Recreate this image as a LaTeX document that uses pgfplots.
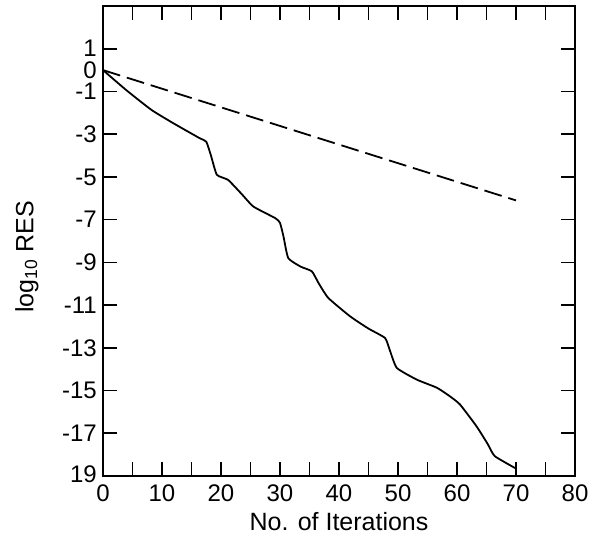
\documentclass[border=0pt]{standalone}
\usepackage{fontspec}
\setmainfont{Liberation Sans}
\usepackage{pgfplots}
\pgfplotsset{compat=1.18}
\begin{document}
\begin{tikzpicture}
\begin{axis}[
  name=ax,
  scale only axis,
  width=472pt, height=470pt,
  xmin=0, xmax=80, ymin=-19, ymax=3,
  axis line style={line width=1.8pt},
  tick style={line width=1.6pt, black},
  major tick length=14pt,
  tick align=inside,
  xtick={0,5,...,80},
  xticklabels={0,,10,,20,,30,,40,,50,,60,,70,,80},
  ytick={1,-1,-3,-5,-7,-9,-11,-13,-15,-17,-19},
  yticklabels={1,-1,-3,-5,-7,-9,-11,-13,-15,-17,\raisebox{3pt}{19}},
  extra y ticks={0},
  extra y tick labels={0},
  extra y tick style={major tick length=0pt, tick style={draw=none}},
  xtick pos=both, ytick pos=both,
  xticklabel pos=lower, yticklabel pos=left,
  ticklabel style={font=\fontsize{24}{28}\selectfont},
  xticklabel style={yshift=-5pt},
  yticklabel style={inner sep=0pt, xshift=-6pt},
  xlabel={No. of Iterations},
  ylabel={log\textsubscript{10} RES},
  every axis x label/.style={at={(axis description cs:0.5,-0.115)}, anchor=base, font=\fontsize{25}{30}\selectfont},
  every axis y label/.style={at={(axis description cs:-0.161,0.466)}, rotate=90, anchor=center, font=\fontsize{25}{30}\selectfont},
  clip=false,
]
\addplot[black, line width=1.8pt, dash pattern=on 18pt off 7pt] coordinates {
  (0,0) (70,-6.1)
};
\addplot[black, line width=1.8pt, smooth, tension=0.3] coordinates {
  (0,0) (4,-0.95) (8.25,-1.87) (12,-2.5) (16.4,-3.19) (17.5,-3.35)
  (18.3,-4.0) (19.3,-4.9) (21.2,-5.14) (23.5,-5.8) (25.5,-6.39)
  (29.2,-6.93) (30.0,-7.15) (30.6,-7.8) (31.4,-8.8) (33.5,-9.2)
  (35.4,-9.42) (36.6,-10.0) (38.2,-10.67) (41.9,-11.53) (45,-12.1)
  (47.8,-12.54) (48.6,-13.1) (49.8,-13.94) (53.2,-14.49) (56.6,-14.87)
  (58.8,-15.27) (60.5,-15.65) (63.3,-16.67) (65.2,-17.5) (66.4,-18.07)
  (70,-18.65)
};
\end{axis}
\pgfresetboundingbox
\path[use as bounding box] (ax.south west) ++(-103pt,-66pt) rectangle ++(593pt,542pt);
\end{tikzpicture}
\end{document}
